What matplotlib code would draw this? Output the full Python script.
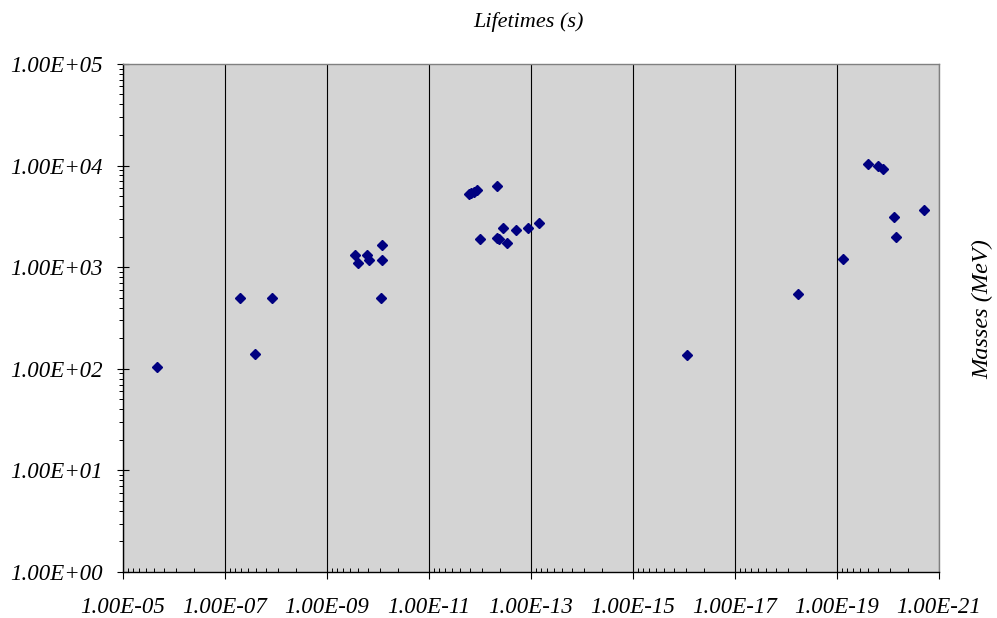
import numpy as np
import matplotlib
matplotlib.use("Agg")
from matplotlib import pyplot as plt
from matplotlib.ticker import FixedLocator, FuncFormatter, NullFormatter, LogLocator

# lifetimes (s) and masses (MeV)
lifetimes = [2.2e-6, 5.2e-8, 2.64e-8, 1.22e-8,
             2.89e-10, 2.52e-10, 1.61e-10, 1.47e-10, 8.2e-11, 8.2e-11, 8.9e-11,
             1.64e-12, 1.47e-12, 1.34e-12, 1.12e-12, 4.74e-13, 1.02e-12, 4.65e-13,
             4.15e-13, 3.57e-13, 2.93e-13, 1.95e-13, 1.16e-13, 7.1e-14,
             8.9e-17, 5.7e-19, 7.7e-20, 2.49e-20, 1.58e-20, 1.26e-20,
             7.46e-21, 7.03e-21, 1.95e-21]
masses = [104, 498, 140, 498,
          1318, 1100, 1318, 1178, 1656, 1178, 498,
          5250, 5370, 5500, 5690, 6300, 1875, 1950,
          1875, 2450, 1742, 2305, 2450, 2722,
          137, 545, 1200, 10370, 9990, 9210,
          3100, 1995, 3655]

x_majors = [10.0 ** e for e in range(-5, -22, -2)]
y_majors = [10.0 ** e for e in range(0, 6)]

font = dict(family="Liberation Serif", style="italic")

fig = plt.figure(figsize=(9.97, 6.18), dpi=100)
ax = fig.add_axes([0.1234, 0.0744, 0.8184, 0.8222])
ax.set_facecolor("#d4d4d4")

ax.plot(lifetimes, masses, linestyle="none", marker="D", ms=5.2,
        color="#000080", mec="#000080", zorder=3)

ax.set_xscale("log")
ax.set_yscale("log")
ax.set_xlim(1e-5, 1e-21)
ax.set_ylim(1, 1e5)

# x axis: majors every 2 decades, minor ticks at k^2 of the lower major
ax.xaxis.set_major_locator(FixedLocator(x_majors))
x_minor = [lo * k * k for lo in x_majors[1:] for k in range(2, 10)]
ax.xaxis.set_minor_locator(FixedLocator(x_minor))
ax.xaxis.set_minor_formatter(NullFormatter())
ax.yaxis.set_major_locator(FixedLocator(y_majors))
ax.yaxis.set_minor_locator(LogLocator(base=10, subs=np.arange(2, 10)))
ax.yaxis.set_minor_formatter(NullFormatter())

fmt = FuncFormatter(lambda v, p: "%.2E" % v)
ax.xaxis.set_major_formatter(fmt)
ax.yaxis.set_major_formatter(fmt)

ax.tick_params(axis="x", which="major", direction="out", length=5, width=0.8, pad=13)
ax.tick_params(axis="x", which="minor", direction="in", length=3, width=0.7)
ax.tick_params(axis="y", which="major", direction="inout", length=9, width=0.8, pad=10)
ax.tick_params(axis="y", which="minor", direction="out", length=3, width=0.7)
for lab in ax.get_xticklabels() + ax.get_yticklabels():
    lab.set_fontfamily("Liberation Serif")
    lab.set_fontstyle("italic")
    lab.set_fontsize(16.5)

ax.xaxis.grid(True, which="major", color="black", linewidth=0.8)
ax.set_axisbelow(True)

for s in ["left", "bottom"]:
    ax.spines[s].set_color("black")
    ax.spines[s].set_linewidth(1.0)
for s in ["top", "right"]:
    ax.spines[s].set_color("#808080")
    ax.spines[s].set_linewidth(1.0)

fig.text(0.530, 0.964, "Lifetimes (s)", ha="center", va="center", fontsize=16, **font)
fig.text(0.986, 0.50, "Masses (MeV)", ha="center", va="center", rotation=90,
         fontsize=17.5, **font)

fig.savefig("out.png", dpi=100)
